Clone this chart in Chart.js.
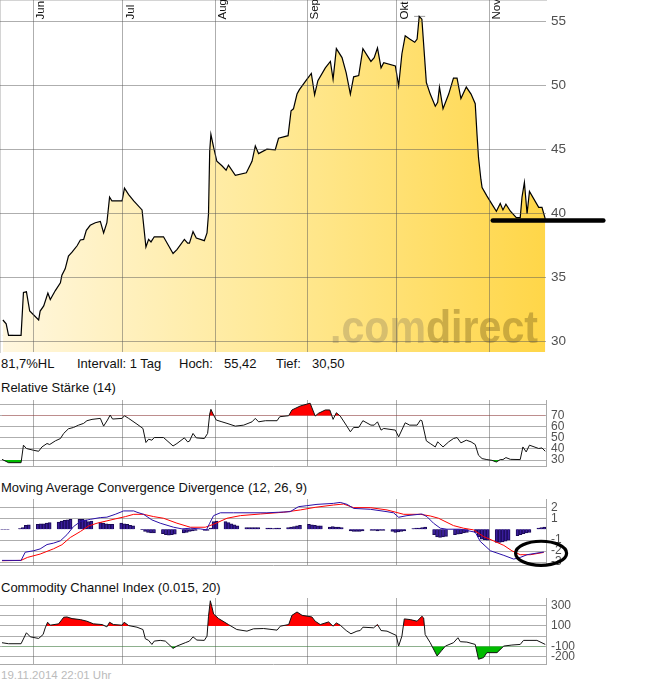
<!DOCTYPE html>
<html lang="de">
<head>
<meta charset="UTF-8">
<title>comdirect Chart</title>
<script src="https://cdn.jsdelivr.net/npm/chart.js@4.4.1/dist/chart.umd.min.js"></script>
<style>
  html, body { margin: 0; padding: 0; background: #fff; }
  body { width: 645px; height: 681px; position: relative; overflow: hidden;
         font-family: "Liberation Sans", Arial, sans-serif; }
  canvas { position: absolute; left: 0; }
  .txt { position: absolute; font-size: 13px; line-height: 15px; color: #111; white-space: nowrap; }
  .stamp { font-size: 11.5px; line-height: 13px; color: #bbb; }
</style>
</head>
<body>
  <canvas id="cMain" width="645" height="354" style="top:0"></canvas>

  <div class="txt" style="left:1px;top:356px">81,7%HL</div>
  <div class="txt" style="left:77px;top:356px">Intervall: 1 Tag</div>
  <div class="txt" style="left:179px;top:356px">Hoch:</div>
  <div class="txt" style="left:224px;top:356px">55,42</div>
  <div class="txt" style="left:276px;top:356px">Tief:</div>
  <div class="txt" style="left:312px;top:356px">30,50</div>

  <div class="txt" style="left:1px;top:380px">Relative Stärke (14)</div>
  <canvas id="cRsi" width="645" height="75" style="top:395px"></canvas>

  <div class="txt" style="left:1px;top:480px">Moving Average Convergence Divergence (12, 26, 9)</div>
  <canvas id="cMacd" width="645" height="77" style="top:494px"></canvas>

  <div class="txt" style="left:1px;top:580px">Commodity Channel Index (0.015, 20)</div>
  <canvas id="cCci" width="645" height="74" style="top:593px"></canvas>

  <div class="txt stamp" style="left:1px;top:669px">19.11.2014 22:01 Uhr</div>

<script>
// x axis: days counted from 1 June 2014
const X_MIN = -11.17, X_MAX = 172.05;
const monthDays = [0, 30, 61, 92, 122, 153];
const monthLabels = ['Jun', 'Jul', 'Aug', 'Sep', 'Okt', 'Nov'];

// price
const priceDays = [-10.2,-9.1,-8.3,-4.1,-3.3,-2.3,-1.2,1.8,2.3,3.5,
  4.9,5.7,7.4,9.1,9.6,10.7,11.8,13.0,14.7,15.8,
  16.9,17.8,19.1,20.8,22.5,23.6,24.7,25.6,26.4,29.8,
  30.6,32.0,33.7,36.5,37.8,38.7,39.5,40.6,43.7,46.9,
  48.2,50.7,51.8,52.4,53.6,54.7,57.4,58.3,58.8,59.2,
  59.6,60.5,61.6,63.3,64.7,65.5,67.8,71.5,73.4,74.5,
  75.6,78.4,81.2,82.3,85.5,86.5,87.3,88.5,89.3,91.8,
  93.3,94.4,95.5,98.0,99.7,100.6,101.7,103.6,105.0,106.4,
  107.5,109.2,110.6,113.3,114.4,115.5,116.7,117.6,121.5,122.6,
  123.7,124.8,126.3,128.0,128.8,129.5,130.4,131.9,133.2,134.9,
  135.7,136.3,137.5,139.4,141.0,142.2,143.5,145.3,146.9,148.3,
  148.9,149.4,150.2,150.6,152.2,153.9,155.4,156.7,157.6,158.6,
  160.1,162.1,163.4,164.0,164.8,165.7,166.5,169.6,170.7,171.8];
const priceValues = [31.7,31.4,30.5,30.5,33.85,33.9,32.4,31.7,32.4,32.8,
  33.8,33.3,34.0,34.6,35.2,35.7,36.7,37.0,37.5,37.95,
  38.0,38.7,39.1,39.3,39.4,38.5,39.3,41.3,41.0,41.0,
  42.0,41.5,41.0,40.3,37.4,38.0,37.8,38.2,38.2,36.9,
  37.2,38.0,37.7,37.7,38.6,38.1,37.9,38.5,40.0,44.9,
  46.2,45.2,44.1,43.75,43.4,43.8,43.0,43.2,44.1,45.3,
  44.7,45.05,45.0,45.9,46.1,48.05,48.2,49.35,49.7,50.5,
  50.96,49.3,50.4,51.4,51.9,50.5,52.9,52.2,51.0,49.35,
  50.7,50.8,52.9,51.9,52.2,52.95,51.4,51.8,51.55,50.0,
  52.5,53.9,53.65,53.4,53.65,55.42,55.2,50.25,49.35,48.4,
  48.7,49.9,48.2,49.35,50.6,50.6,49.0,49.9,49.35,48.6,
  46.2,44.4,42.7,42.05,41.4,40.75,40.2,40.8,40.3,40.75,
  40.2,39.7,39.7,41.3,42.45,40.0,41.75,40.5,40.5,39.6];
const priceTicks = [30, 35, 40, 45, 50, 55];
const highMark = { from: 127.8, to: 131.5, value: 55.42 };
const lowMark = { from: -10.2, to: -6.7, value: 30.5 };
// hand-drawn marks on the picture
const supportLine = { from: 154.2, to: 191.3, value: 39.47 };
const macdRing = { day: 170.4, value: -2.2, rxDays: 8.56, ryUnits: 1.1 };

// RSI (14)
const rsiDays = [-10.5,-8.3,-4.1,-3.3,-2.3,0.1,1.8,2.9,4.6,5.5,
  7.4,9.1,10.2,11.8,13.5,15.2,16.9,18.0,19.7,22.5,
  23.6,24.9,25.8,26.6,29.8,30.6,32.0,34.8,36.8,37.8,
  38.7,39.8,40.6,43.7,46.9,48.2,50.7,51.8,52.4,53.6,
  54.7,57.4,58.5,59.2,59.6,60.5,61.4,63.3,65.0,67.8,
  70.6,73.4,74.5,75.6,77.9,81.8,82.7,85.7,86.8,89.6,
  92.9,94.6,95.7,98.0,99.5,100.6,101.7,103.0,105.0,106.4,
  107.5,109.2,110.6,113.3,114.4,115.5,116.7,117.6,121.5,122.6,
  124.8,126.3,128.8,129.9,130.4,131.9,133.2,134.9,135.7,136.3,
  137.5,139.4,141.0,142.2,143.5,145.3,146.9,148.3,149.4,150.6,
  152.2,153.9,155.4,156.7,157.6,158.6,160.1,163.4,164.3,165.4,
  166.5,169.6,170.7,171.8];
const rsiValues = [30.6,27.6,27.6,43.4,40.4,38.8,37.9,41.8,44.9,44.0,
  47.3,49.4,54.0,58.2,59.4,61.5,63.1,65.5,66.7,67.6,
  60.6,66.1,70.6,67.0,67.6,70.0,67.6,62.4,58.5,45.8,
  48.8,47.9,50.3,50.3,42.7,44.9,50.0,46.4,47.0,54.0,
  50.0,49.4,54.0,71.5,75.8,70.6,66.1,64.5,63.1,60.6,
  61.5,64.5,67.6,64.5,65.5,65.5,69.1,70.0,75.2,78.8,
  81.3,69.7,72.2,75.2,75.2,66.7,72.7,69.7,61.5,55.5,
  59.4,59.4,65.5,61.5,61.5,64.5,57.0,58.5,57.0,50.9,
  63.6,61.5,61.5,66.1,65.5,47.3,44.9,41.8,46.4,44.9,
  41.8,46.4,49.4,50.3,45.5,47.9,46.4,44.0,34.3,31.3,
  30.4,29.7,28.2,30.4,30.4,32.2,30.6,30.4,41.8,37.3,
  43.4,40.4,40.9,37.9];
const rsiTicks = [30, 40, 50, 60, 70, 80];
const rsiLabels = [30, 40, 50, 60, 70];

// MACD (12, 26, 9)
const macdDays = [-10.5,-4.1,-2.7,0.1,2.3,4.6,6.8,9.1,11.3,13.5,
  15.8,19.1,22.5,24.7,27.5,30.3,33.7,34.8,37.0,39.8,
  42.6,47.1,49.9,52.7,56.0,58.1,59.2,60.5,62.8,67.2,
  78.4,82.3,86.2,89.0,91.8,95.2,100.7,103.0,105.3,107.5,
  113.1,118.7,120.9,122.6,125.4,130.4,132.1,134.3,136.6,138.8,
  143.3,148.3,150.0,153.4,157.9,161.2,163.4,165.7,169.0,171.3];
const macdValues = [-2.85,-2.85,-2.1,-1.97,-1.8,-1.4,-1.27,-1.06,-0.5,0.24,
  0.7,0.9,1.06,1.1,1.36,1.67,1.67,1.55,1.36,0.85,
  0.55,0.18,0.03,0.09,0.03,-0.06,0.55,1.24,1.5,1.5,
  1.5,1.55,1.6,2.06,2.15,2.27,2.36,2.45,2.27,1.9,
  1.82,1.6,1.5,1.09,1.24,1.39,1.15,0.55,0.09,0.0,
  0.0,-0.27,-1.12,-1.97,-2.39,-2.73,-2.58,-2.33,-2.18,-2.09];
const signalDays = [-10.5,-4.1,-2.0,2.3,6.8,9.6,12.4,15.8,18.6,21.4,
  24.7,27.5,30.9,33.7,37.0,40.4,43.7,48.2,52.7,57.7,
  60.5,65.0,69.5,76.2,84.0,89.6,94.6,100.7,104.1,107.5,
  113.1,118.7,124.3,129.9,133.2,136.0,141.0,144.4,147.7,151.1,
  154.4,157.9,160.6,163.4,166.8,171.3];
const signalValues = [-2.88,-2.85,-2.58,-2.27,-1.79,-1.42,-0.76,-0.21,0.3,0.55,
  0.76,0.94,1.15,1.36,1.36,1.15,1.0,0.55,0.18,0.18,
  0.45,1.0,1.24,1.39,1.55,1.76,2.0,2.21,2.3,1.97,
  1.97,1.76,1.36,1.36,1.21,1.0,0.33,0.09,-0.06,-0.67,
  -1.06,-1.48,-1.97,-2.33,-2.33,-2.12];
// histogram, one bar per trading day from 21.05.2014 to 19.11.2014
const histFirstDay = '2014-05-21';
const histLastDay = '2014-11-19';
const histValues = [
  -0.03,-0.03,-0.03,
  0.0,0.05,0.15,0.35,0.4,
  0.45,0.5,0.5,0.55,0.6,
  0.65,0.75,0.8,0.85,0.9,
  0.9,0.9,0.85,0.7,0.75,
  0.6,0.55,0.5,0.45,0.45,
  0.55,0.5,0.45,0.35,0.3,
  -0.05,-0.2,-0.3,-0.35,-0.35,
  -0.4,-0.5,-0.55,-0.5,-0.45,
  -0.35,-0.3,-0.2,-0.15,-0.1,
  -0.1,-0.1,0.1,0.7,0.75,
  0.7,0.6,0.5,0.4,0.3,
  0.15,0.15,0.15,0.15,0.15,
  0.1,0.1,0.05,0.1,0.1,
  0.15,0.2,0.25,0.3,0.35,
  0.45,0.4,0.35,0.3,0.3,
  0.2,0.25,0.2,0.2,0.15,
  -0.15,-0.2,-0.2,-0.2,-0.15,
  -0.1,-0.1,-0.15,-0.1,-0.1,
  -0.2,-0.3,-0.25,-0.2,-0.15,
  0.05,0.1,0.1,0.15,0.2,
  -0.5,-0.7,-0.75,-0.7,-0.65,
  -0.5,-0.45,-0.4,-0.35,-0.3,
  -0.3,-0.7,-0.9,-0.95,-1.0,
  -1.2,-1.2,-1.15,-1.1,-1.0,
  -0.6,-0.5,-0.4,-0.35,-0.3,
  0.1,0.15,0.2];
const macdTicks = [-3, -2, -1, 1, 2];

// CCI (0.015, 20)
const cciDays = [-10.5,-8.3,-4.1,-2.3,-1.0,1.8,3.3,4.0,4.8,5.7,
  8.5,10.2,11.3,13.0,15.8,18.0,20.2,23.1,24.7,25.6,
  26.9,29.8,30.5,32.0,34.8,36.8,37.6,38.7,39.8,40.6,
  42.6,44.3,46.9,48.2,51.0,52.4,53.6,54.9,57.4,58.3,
  58.8,59.4,59.9,60.5,62.2,65.5,68.3,71.7,73.9,77.3,
  81.8,82.9,85.7,86.8,88.5,90.2,93.5,94.6,96.3,99.1,
  100.6,101.7,103.0,105.0,106.6,108.6,109.7,110.6,114.2,115.5,
  116.7,118.7,121.8,122.6,123.7,124.5,126.5,128.8,130.4,131.0,
  131.5,133.2,135.5,137.1,138.3,141.0,142.5,143.3,145.5,148.3,
  149.4,151.1,152.2,155.6,157.9,160.6,163.4,164.5,169.0,171.8];
const cciValues = [-65,-75,-75,33,-7,-23,16,81,137,108,
  121,186,189,173,163,147,121,114,91,137,
  114,108,137,104,88,65,-26,-42,-82,-49,
  -42,-49,-121,-98,-65,-49,-7,-39,-42,0,
  196,349,293,218,173,114,65,49,72,75,
  59,98,114,205,238,205,189,147,114,140,
  98,130,108,55,23,49,55,88,82,114,
  55,49,7,-98,0,170,163,147,196,179,
  16,-65,-196,-140,-98,-65,-16,-55,-59,-82,
  -228,-212,-163,-163,-98,-88,-82,-42,-42,-82];
const cciTicks = [-200, -100, 0, 100, 200, 300];
const cciLabels = [-200, -100, 100, 300];

const GRID = 'rgba(85,85,85,0.48)';
const FONT = '"Liberation Sans", Arial, sans-serif';

function xy(days, values) {
  return days.map((d, i) => ({ x: d, y: values[i] }));
}

function tradingDays(first, last) {
  const out = [];
  const start = Date.UTC(2014, 5, 1);
  let t = Date.parse(first + 'T00:00:00Z');
  const end = Date.parse(last + 'T00:00:00Z');
  while (t <= end) {
    const wd = new Date(t).getUTCDay();
    if (wd !== 0 && wd !== 6) out.push((t - start) / 86400000);
    t += 86400000;
  }
  return out;
}

function makePanel(id, o) {
  return new Chart(document.getElementById(id), {
    type: 'line',
    data: { datasets: o.datasets },
    options: {
      responsive: false,
      animation: false,
      devicePixelRatio: 1,
      events: [],
      layout: { padding: { top: o.padTop, bottom: o.padBottom, left: 0, right: 0 } },
      plugins: { legend: { display: false }, tooltip: { enabled: false } },
      elements: { point: { radius: 0 }, line: { tension: 0 } },
      scales: {
        x: {
          type: 'linear', min: X_MIN, max: X_MAX, offset: false,
          afterBuildTicks: s => { s.ticks = monthDays.map(v => ({ value: v })); },
          afterFit: s => { s.height = 0; s.paddingLeft = 0; s.paddingRight = 0; },
          ticks: { display: false },
          grid: { color: GRID, drawTicks: false, offset: false, z: o.gridZ || -1 },
          border: { display: true, color: '#aaa' }
        },
        y: {
          type: 'linear', position: 'right', min: o.yMin, max: o.yMax,
          afterBuildTicks: s => { s.ticks = o.yTicks.map(v => ({ value: v })); },
          afterFit: s => { s.width = 99; s.paddingTop = 0; s.paddingBottom = 0; },
          grid: { color: GRID, drawTicks: false, z: o.gridZ || -1 },
          border: { display: true, color: '#aaa' },
          ticks: {
            autoSkip: false, padding: 5, color: '#505050',
            font: { family: FONT, size: o.fontSize },
            callback: v => (o.yLabels.includes(v) ? String(v) : '')
          }
        }
      }
    },
    plugins: o.plugins || []
  });
}

const monthLabelPlugin = {
  id: 'monthLabels',
  afterDraw(chart) {
    const { ctx, chartArea } = chart;
    const x = chart.scales.x;
    ctx.save();
    ctx.fillStyle = '#111';
    ctx.font = '11.5px ' + FONT;
    ctx.textAlign = 'left';
    ctx.textBaseline = 'alphabetic';
    monthDays.forEach((d, i) => {
      ctx.save();
      ctx.translate(x.getPixelForValue(d) + 11, chartArea.top + 19.5);
      ctx.rotate(-Math.PI / 2);
      ctx.fillText(monthLabels[i], 0, 0);
      ctx.restore();
    });
    ctx.restore();
  }
};

const watermarkPlugin = {
  id: 'watermark',
  afterDatasetsDraw(chart) {
    const { ctx, chartArea } = chart;
    ctx.save();
    ctx.font = 'bold 47px ' + FONT;
    const w1 = ctx.measureText('.com').width;
    const w2 = ctx.measureText('direct').width;
    const k = 208 / (w1 + w2);
    ctx.translate(chartArea.right - 216, chartArea.bottom - 9);
    ctx.scale(k, 1);
    ctx.textBaseline = 'alphabetic';
    ctx.fillStyle = 'rgba(150,135,95,0.38)';
    ctx.fillText('.com', 0, 0);
    ctx.fillStyle = 'rgba(130,105,30,0.42)';
    ctx.fillText('direct', w1, 0);
    ctx.restore();
  }
};

const supportLinePlugin = {
  id: 'supportLine',
  afterDraw(chart) {
    const { ctx, scales: { x, y } } = chart;
    const py = y.getPixelForValue(supportLine.value);
    ctx.save();
    ctx.strokeStyle = '#000';
    ctx.lineWidth = 4.5;
    ctx.lineCap = 'round';
    ctx.beginPath();
    ctx.moveTo(x.getPixelForValue(supportLine.from), py);
    ctx.lineTo(x.getPixelForValue(supportLine.to), py);
    ctx.stroke();
    ctx.restore();
  }
};

const ringPlugin = {
  id: 'macdRing',
  afterDraw(chart) {
    const { ctx, scales: { x, y } } = chart;
    const cx = x.getPixelForValue(macdRing.day);
    const cy = y.getPixelForValue(macdRing.value);
    const rx = Math.abs(x.getPixelForValue(macdRing.day + macdRing.rxDays) - cx);
    const ry = Math.abs(y.getPixelForValue(macdRing.value + macdRing.ryUnits) - cy);
    ctx.save();
    ctx.strokeStyle = '#000';
    ctx.lineWidth = 3.2;
    ctx.beginPath();
    ctx.ellipse(cx, cy, rx, ry, 0, 0, Math.PI * 2);
    ctx.stroke();
    ctx.restore();
  }
};

function priceFill(context) {
  const chart = context.chart;
  const a = chart.chartArea;
  if (!a) return 'rgba(255,230,140,1)';
  const g = chart.ctx.createLinearGradient(a.left, 0, a.right, 0);
  g.addColorStop(0, 'rgb(255,247,224)');
  g.addColorStop(0.5, 'rgb(255,233,150)');
  g.addColorStop(1, 'rgb(255,214,72)');
  return g;
}

// main price chart
makePanel('cMain', {
  padTop: 0, padBottom: 2, yMin: 29.2, yMax: 56.7,
  yTicks: priceTicks, yLabels: priceTicks, fontSize: 13.5, gridZ: 1,
  datasets: [
    { data: xy(priceDays, priceValues), borderColor: '#000', borderWidth: 1.2,
      fill: 'start', backgroundColor: priceFill },
    { data: xy([highMark.from, highMark.to], [highMark.value, highMark.value]),
      borderColor: '#999', borderWidth: 1, fill: false },
    { data: xy([lowMark.from, lowMark.to], [lowMark.value, lowMark.value]),
      borderColor: '#999', borderWidth: 1, fill: false }
  ],
  plugins: [watermarkPlugin, monthLabelPlugin, supportLinePlugin]
});

// RSI
makePanel('cRsi', {
  padTop: 5, padBottom: 4, yMin: 24.6, yMax: 84.2,
  yTicks: rsiTicks, yLabels: rsiLabels, fontSize: 12,
  datasets: [
    { data: xy(rsiDays, rsiValues), borderColor: '#111', borderWidth: 1,
      fill: { target: { value: 70 }, above: '#ff0000', below: 'rgba(0,0,0,0)' } },
    { data: xy(rsiDays, rsiValues), borderColor: 'rgba(0,0,0,0)', borderWidth: 0,
      fill: { target: { value: 30 }, above: 'rgba(0,0,0,0)', below: '#00bb00' } }
  ]
});

// MACD
const histDays = tradingDays(histFirstDay, histLastDay);
makePanel('cMacd', {
  padTop: 5, padBottom: 6, yMin: -3.27, yMax: 2.76,
  yTicks: macdTicks, yLabels: macdTicks, fontSize: 12,
  datasets: [
    { type: 'bar', order: 3, data: histDays.map((d, i) => ({ x: d + 0.5, y: histValues[i] })),
      backgroundColor: '#3a1d9c', borderColor: '#1a0a55', borderWidth: 1, barThickness: 3 },
    { order: 2, data: xy(signalDays, signalValues), borderColor: '#ff0000', borderWidth: 1, fill: false },
    { order: 1, data: xy(macdDays, macdValues), borderColor: '#2a10a8', borderWidth: 1, fill: false }
  ],
  plugins: [ringPlugin]
});

// CCI
makePanel('cCci', {
  padTop: 5, padBottom: 3, yMin: -275, yMax: 376,
  yTicks: cciTicks, yLabels: cciLabels, fontSize: 12,
  datasets: [
    { data: xy(cciDays, cciValues), borderColor: '#111', borderWidth: 1,
      fill: { target: { value: 100 }, above: '#ff0000', below: 'rgba(0,0,0,0)' } },
    { data: xy(cciDays, cciValues), borderColor: 'rgba(0,0,0,0)', borderWidth: 0,
      fill: { target: { value: -100 }, above: 'rgba(0,0,0,0)', below: '#00bb00' } }
  ]
});
</script>
</body>
</html>
